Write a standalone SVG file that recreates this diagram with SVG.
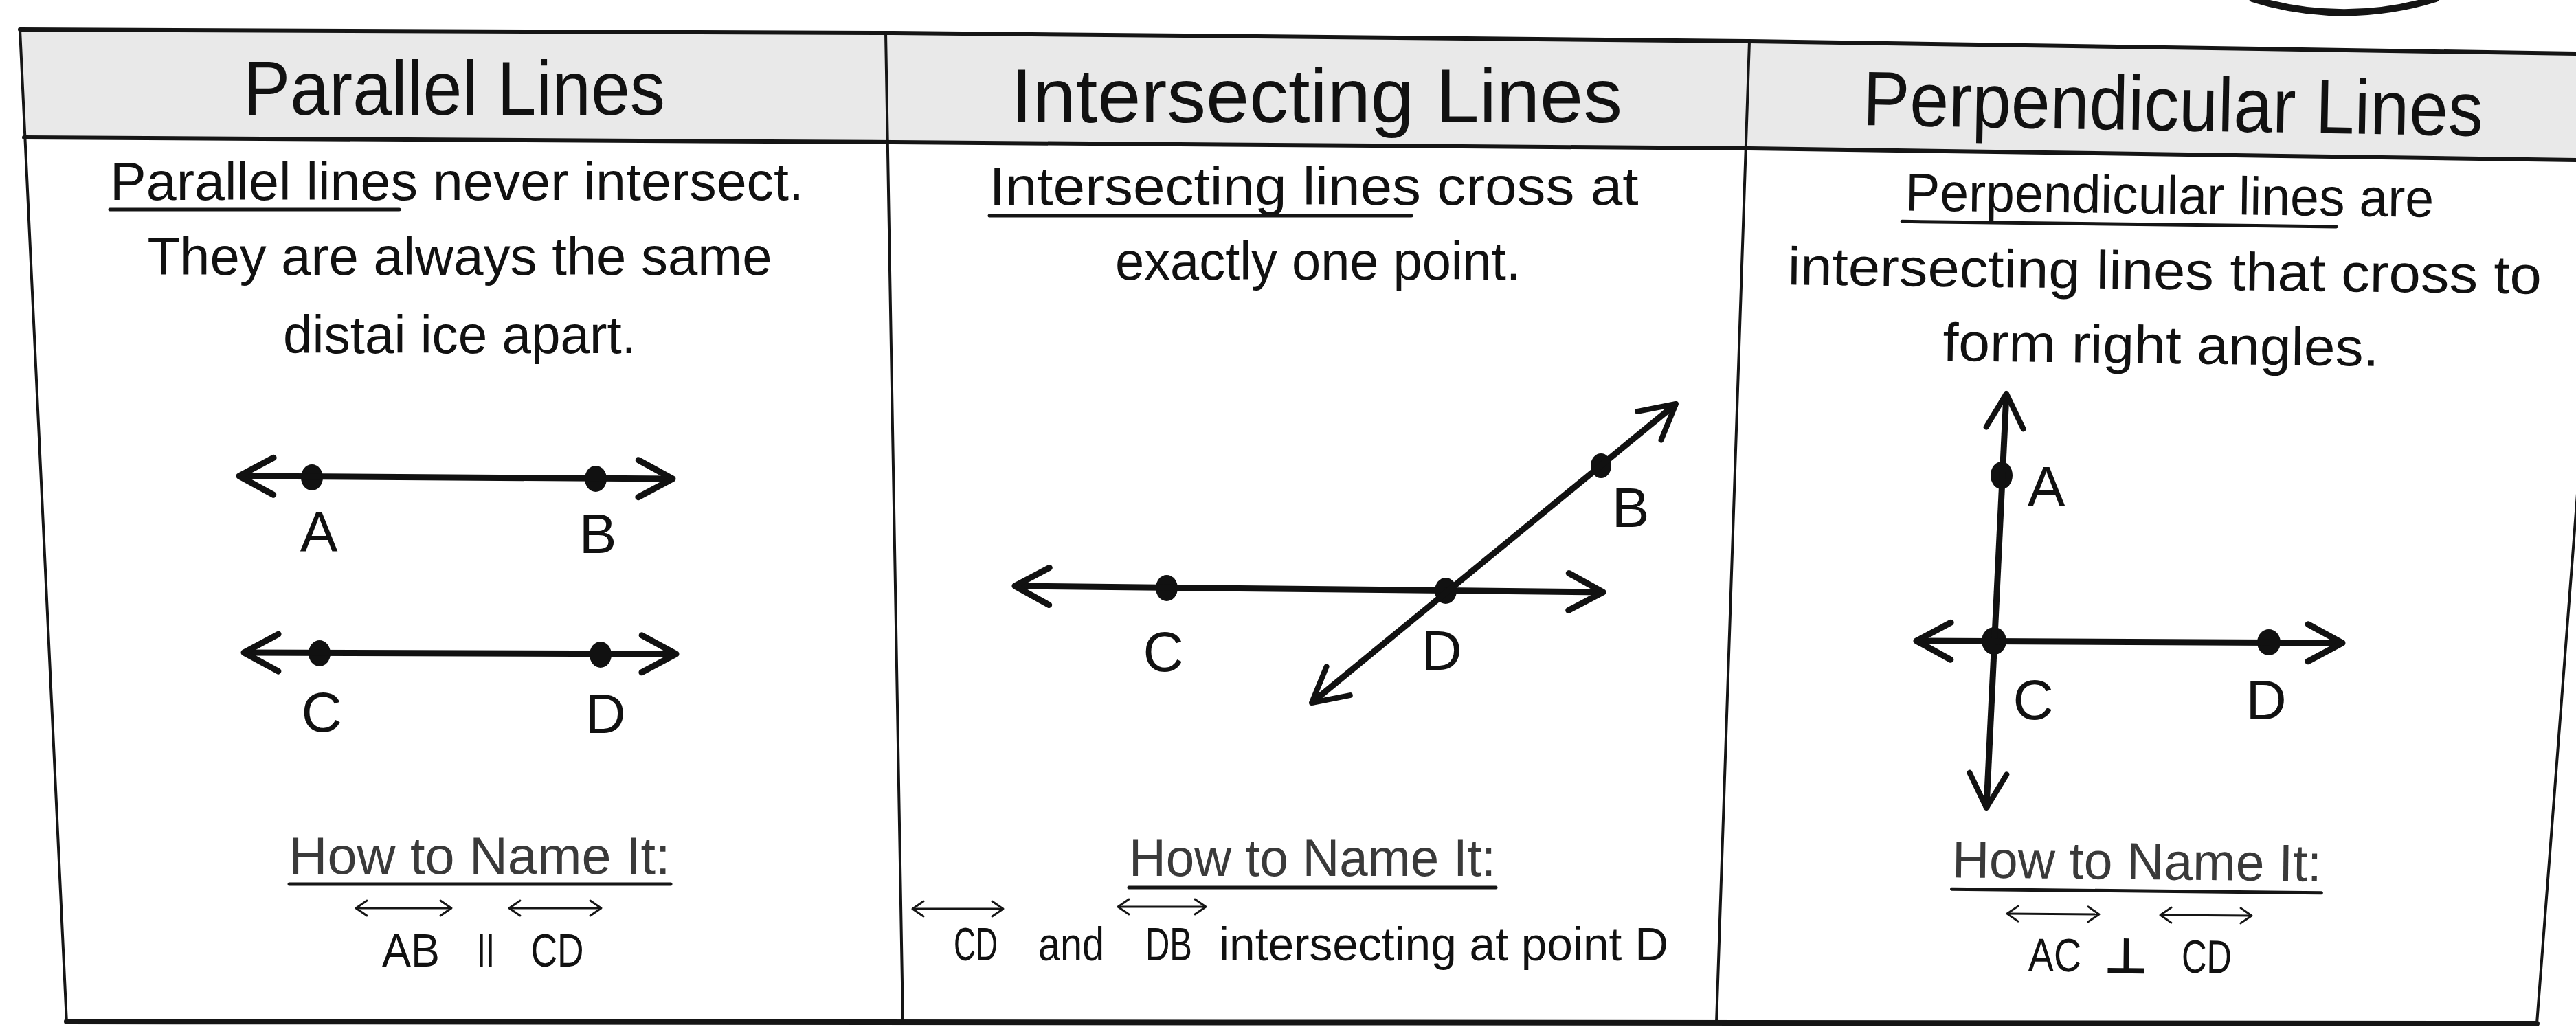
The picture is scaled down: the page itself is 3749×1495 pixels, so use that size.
<svg xmlns="http://www.w3.org/2000/svg" width="3749" height="1495" viewBox="0 0 3749 1495">
<style>
  .t{font-family:"Liberation Sans",Arial,sans-serif;fill:#111}
  .hd{font-size:112px}
  .bd{font-size:78px}
  .lb{font-size:82px}
  .nm{font-size:76px;fill:#3a3a3a}
  .nt{font-size:68px}
  .fr{fill:none;stroke:#151515;stroke-linecap:round;stroke-linejoin:round}
  .ln{fill:none;stroke:#111;stroke-width:9;stroke-linecap:butt}
  .ul{stroke:#151515;stroke-width:5;stroke-linecap:round}
  .ov{fill:none;stroke:#151515;stroke-width:3}
  .dot{fill:#111}
</style>
<defs>
  <marker id="ah" markerUnits="userSpaceOnUse" orient="auto-start-reverse" refX="0" refY="0" markerWidth="120" markerHeight="120" viewBox="-60 -60 120 120" overflow="visible">
    <path d="M -50 -27 L 0 0 L -50 27" fill="none" stroke="#111" stroke-width="9" stroke-linecap="round" stroke-linejoin="round"/>
  </marker>
  <marker id="ahd" markerUnits="userSpaceOnUse" orient="auto-start-reverse" refX="0" refY="0" markerWidth="120" markerHeight="120" viewBox="-60 -60 120 120" overflow="visible">
    <path d="M -50 -27 L 0 0 L -50 27" fill="none" stroke="#111" stroke-width="8" stroke-linecap="round" stroke-linejoin="round"/>
  </marker>
  <marker id="sa" markerUnits="userSpaceOnUse" orient="auto-start-reverse" refX="0" refY="0" markerWidth="60" markerHeight="60" viewBox="-30 -30 60 60" overflow="visible">
    <path d="M -16 -11 L 0 0 L -16 11" fill="none" stroke="#151515" stroke-width="3" stroke-linecap="round" stroke-linejoin="round"/>
  </marker>
</defs>
<rect x="0" y="0" width="3749" height="1495" fill="#ffffff"/>

<g id="frame">
  <polygon points="29,43 1300,48 2546,60 3749,78 3749,233 2546,216 1300,207 35,200" fill="#e9e9e9"/>
  <polyline class="fr" points="29,43 1300,48 2546,60 3749,78" stroke-width="6"/>
  <polyline class="fr" points="35,200 1300,207 2546,216 3749,233" stroke-width="6"/>
  <line class="fr" x1="29" y1="43" x2="97" y2="1489" stroke-width="4"/>
  <line class="fr" x1="1289" y1="47" x2="1314" y2="1488" stroke-width="4"/>
  <line class="fr" x1="2546" y1="60" x2="2498" y2="1489" stroke-width="4"/>
  <line class="fr" x1="3800" y1="78" x2="3692" y2="1490" stroke-width="4"/>
  <line class="fr" x1="97" y1="1487" x2="3692" y2="1490" stroke-width="8"/>
  <path class="fr" d="M 3278 -2 A 450 450 0 0 0 3545 -2" stroke-width="10"/>
</g>

<g id="col-parallel">
  <text class="t hd" x="661" y="167" text-anchor="middle" textLength="614" lengthAdjust="spacingAndGlyphs">Parallel Lines</text>
  <text class="t bd" x="665" y="291" text-anchor="middle" textLength="1010" lengthAdjust="spacingAndGlyphs">Parallel lines never intersect.</text>
  <line class="ul" x1="160" y1="305" x2="581" y2="305"/>
  <text class="t bd" x="669" y="400" text-anchor="middle" textLength="909" lengthAdjust="spacingAndGlyphs">They are always the same</text>
  <text class="t bd" x="669" y="514" text-anchor="middle" textLength="514" lengthAdjust="spacingAndGlyphs">distai ice apart.</text>
  <g id="parallel-labels">
    <text class="t lb" x="464" y="802" text-anchor="middle">A</text>
    <text class="t lb" x="870" y="805" text-anchor="middle">B</text>
    <text class="t lb" x="468" y="1065" text-anchor="middle">C</text>
    <text class="t lb" x="881" y="1067" text-anchor="middle">D</text>
  </g>
  <g id="parallel-points">
    <ellipse class="dot" cx="454" cy="695" rx="16" ry="19"/>
    <ellipse class="dot" cx="867" cy="697" rx="16" ry="19"/>
    <ellipse class="dot" cx="465" cy="951" rx="16" ry="19"/>
    <ellipse class="dot" cx="874" cy="953" rx="16" ry="19"/>
  </g>
  <g id="parallel-name">
    <text class="t nm" x="698" y="1272" text-anchor="middle" textLength="555" lengthAdjust="spacingAndGlyphs">How to Name It:</text>
    <line class="ul" x1="421" y1="1287" x2="976" y2="1287"/>
    <text class="t nt" x="598" y="1407" text-anchor="middle" textLength="84" lengthAdjust="spacingAndGlyphs">AB</text>
    <text class="t nt" x="707" y="1407" text-anchor="middle" textLength="26" lengthAdjust="spacingAndGlyphs">II</text>
    <text class="t nt" x="811" y="1407" text-anchor="middle" textLength="77" lengthAdjust="spacingAndGlyphs">CD</text>
  </g>
</g>

<g id="col-intersecting">
  <text class="t hd" x="1916" y="178" text-anchor="middle" textLength="890" lengthAdjust="spacingAndGlyphs">Intersecting Lines</text>
  <text class="t bd" x="1912" y="298" text-anchor="middle" textLength="945" lengthAdjust="spacingAndGlyphs">Intersecting lines cross at</text>
  <line class="ul" x1="1440" y1="314" x2="2054" y2="314"/>
  <text class="t bd" x="1918" y="407" text-anchor="middle" textLength="590" lengthAdjust="spacingAndGlyphs">exactly one point.</text>
  <g id="intersecting-labels">
    <text class="t lb" x="1693" y="977" text-anchor="middle">C</text>
    <text class="t lb" x="2098" y="975" text-anchor="middle">D</text>
    <text class="t lb" x="2373" y="767" text-anchor="middle">B</text>
  </g>
  <g id="intersecting-points">
    <ellipse class="dot" cx="1698" cy="856" rx="16" ry="19"/>
    <ellipse class="dot" cx="2104" cy="860" rx="16" ry="19"/>
    <ellipse class="dot" cx="2330" cy="678" rx="15" ry="18"/>
  </g>
  <g id="intersecting-name">
    <text class="t nm" x="1910" y="1275" text-anchor="middle" textLength="534" lengthAdjust="spacingAndGlyphs">How to Name It:</text>
    <line class="ul" x1="1643" y1="1292" x2="2177" y2="1292"/>
    <text class="t nt" x="1420" y="1398" text-anchor="middle" textLength="64" lengthAdjust="spacingAndGlyphs">CD</text>
    <text class="t nt" x="1559" y="1398" text-anchor="middle" textLength="96" lengthAdjust="spacingAndGlyphs">and</text>
    <text class="t nt" x="1701" y="1398" text-anchor="middle" textLength="68" lengthAdjust="spacingAndGlyphs">DB</text>
    <text class="t nt" x="2101" y="1398" text-anchor="middle" textLength="654" lengthAdjust="spacingAndGlyphs">intersecting at point D</text>
  </g>
</g>

<g id="col-perpendicular">
  <text class="t hd" x="3162" y="190" text-anchor="middle" textLength="903" lengthAdjust="spacingAndGlyphs" transform="rotate(1 3162 190)">Perpendicular Lines</text>
  <g transform="rotate(0.7 3150 420)">
    <text class="t bd" x="3156" y="311" text-anchor="middle" textLength="769" lengthAdjust="spacingAndGlyphs">Perpendicular lines are</text>
    <line class="ul" x1="2767" y1="327" x2="3399" y2="327"/>
    <text class="t bd" x="3150" y="421" text-anchor="middle" textLength="1097" lengthAdjust="spacingAndGlyphs">intersecting lines that cross to</text>
    <text class="t bd" x="3146" y="529" text-anchor="middle" textLength="635" lengthAdjust="spacingAndGlyphs">form right angles.</text>
  </g>
  <g id="perpendicular-labels">
    <text class="t lb" x="2978" y="736" text-anchor="middle">A</text>
    <text class="t lb" x="2959" y="1047" text-anchor="middle">C</text>
    <text class="t lb" x="3298" y="1047" text-anchor="middle">D</text>
  </g>
  <g id="perpendicular-points">
    <ellipse class="dot" cx="2913" cy="692" rx="16" ry="20"/>
    <ellipse class="dot" cx="2902" cy="933" rx="18" ry="20"/>
    <ellipse class="dot" cx="3302" cy="935" rx="17" ry="19"/>
  </g>
  <g id="perpendicular-name" transform="rotate(0.6 3109 1340)">
    <text class="t nm" x="3109" y="1280" text-anchor="middle" textLength="538" lengthAdjust="spacingAndGlyphs">How to Name It:</text>
    <line class="ul" x1="2840" y1="1297" x2="3378" y2="1297"/>
    <text class="t nt" x="2991" y="1415" text-anchor="middle" textLength="77" lengthAdjust="spacingAndGlyphs">AC</text>
    <text x="3095" y="1417" text-anchor="middle" style="font-family:'DejaVu Sans',sans-serif;font-size:72px;font-weight:bold;fill:#111">⊥</text>
    <text class="t nt" x="3212" y="1415" text-anchor="middle" textLength="73" lengthAdjust="spacingAndGlyphs">CD</text>
  </g>
</g>

<g id="connectors">
  <line class="ln" x1="348" y1="693" x2="979" y2="697" marker-start="url(#ah)" marker-end="url(#ah)"/>
  <line class="ln" x1="355" y1="950" x2="984" y2="952" marker-start="url(#ah)" marker-end="url(#ah)"/>
  <line class="ln" x1="1477" y1="853" x2="2333" y2="862" marker-start="url(#ah)" marker-end="url(#ah)"/>
  <line class="ln" x1="1909" y1="1023" x2="2439" y2="588" stroke-width="7" marker-start="url(#ahd)" marker-end="url(#ahd)"/>
  <line class="ln" x1="2920" y1="573" x2="2891" y2="1176" stroke-width="8" marker-start="url(#ahd)" marker-end="url(#ahd)"/>
  <line class="ln" x1="2789" y1="933" x2="3409" y2="936" marker-start="url(#ah)" marker-end="url(#ah)"/>
  <line class="ov" x1="518" y1="1322" x2="657" y2="1322" marker-start="url(#sa)" marker-end="url(#sa)"/>
  <line class="ov" x1="741" y1="1322" x2="875" y2="1322" marker-start="url(#sa)" marker-end="url(#sa)"/>
  <line class="ov" x1="1328" y1="1323" x2="1460" y2="1323" marker-start="url(#sa)" marker-end="url(#sa)"/>
  <line class="ov" x1="1627" y1="1320" x2="1755" y2="1320" marker-start="url(#sa)" marker-end="url(#sa)"/>
  <line class="ov" x1="2921" y1="1330" x2="3055" y2="1331" marker-start="url(#sa)" marker-end="url(#sa)"/>
  <line class="ov" x1="3144" y1="1332" x2="3277" y2="1333" marker-start="url(#sa)" marker-end="url(#sa)"/>
</g>
</svg>
